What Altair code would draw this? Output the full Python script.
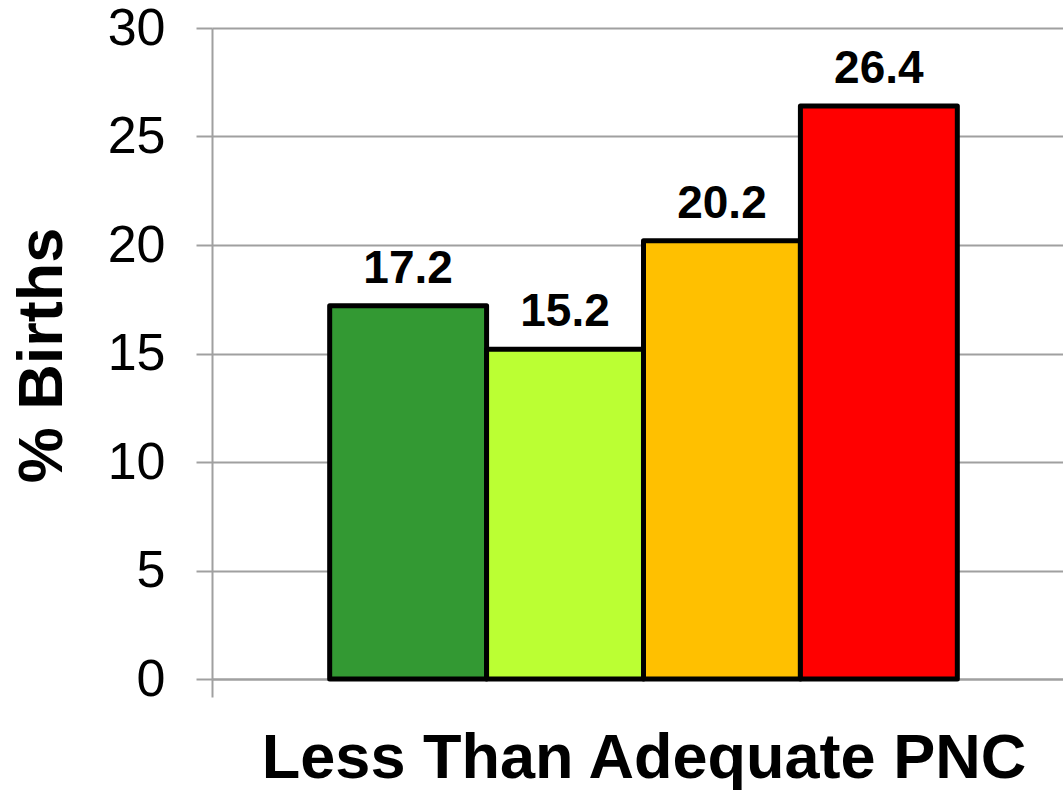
import altair as alt
import pandas as pd

# Chart data
category = ["Less Than Adequate PNC"]
groups = ["Group 1", "Group 2", "Group 3", "Group 4"]
values = [17.2, 15.2, 20.2, 26.4]
colors = ["#339933", "#BBFF33", "#FFC000", "#FF0000"]
y_ticks = [0, 5, 10, 15, 20, 25, 30]

df = pd.DataFrame({
    "category": category * len(groups),
    "group": groups,
    "value": values,
    "label": [f"{v:.1f}" for v in values],
})

FONT = "Liberation Sans"
GRID = "#A0A0A0"

x = alt.X(
    "category:N",
    title=None,
    scale=alt.Scale(paddingInner=0, paddingOuter=0),
    axis=alt.Axis(
        labelFont=FONT, labelFontSize=63, labelFontWeight="bold", labelColor="black",
        labelAngle=0, labelBaseline="alphabetic", labelPadding=80, labelLimit=1200,
        tickBand="extent", tickSize=18, tickColor=GRID, tickWidth=2,
        domainColor=GRID, domainWidth=2, grid=False,
    ),
)
xo = alt.XOffset("group:N", sort=groups,
                 scale=alt.Scale(paddingInner=0, paddingOuter=0.75))
y = alt.Y(
    "value:Q",
    title="% Births",
    scale=alt.Scale(domain=[0, 30], nice=False),
    axis=alt.Axis(
        values=y_ticks, labelFont=FONT, labelFontSize=52, labelColor="black",
        labelPadding=31, labelBaseline="middle",
        tickSize=16, tickColor=GRID, tickWidth=2,
        domainColor=GRID, domainWidth=2,
        grid=True, gridColor=GRID, gridWidth=2,
        titleFont=FONT, titleFontSize=63, titleFontWeight="bold", titleColor="black",
        titleAngle=270, titleAlign="center", titleBaseline="alphabetic",
        titleX=-151, titleY=327,
    ),
)

bars = alt.Chart(df).mark_bar(stroke="black", strokeWidth=5, strokeJoin="round").encode(
    x=x, xOffset=xo, y=y,
    color=alt.Color("group:N", scale=alt.Scale(domain=groups, range=colors), legend=None),
)

labels = alt.Chart(df).mark_text(
    font=FONT, fontSize=46, fontWeight="bold", color="black",
    baseline="alphabetic", dy=-23,
).encode(x=x, xOffset=xo, y=y, text="label:N")

chart = (
    alt.layer(bars, labels)
    .properties(
        width=863, height=651,
        padding={"left": 212, "top": 28, "right": -12, "bottom": 111},
        autosize=alt.AutoSizeParams(type="none"),
        background="white",
    )
    .configure_view(strokeWidth=0)
)

chart.save("out.html", embed_options={"renderer": "svg", "actions": False})
